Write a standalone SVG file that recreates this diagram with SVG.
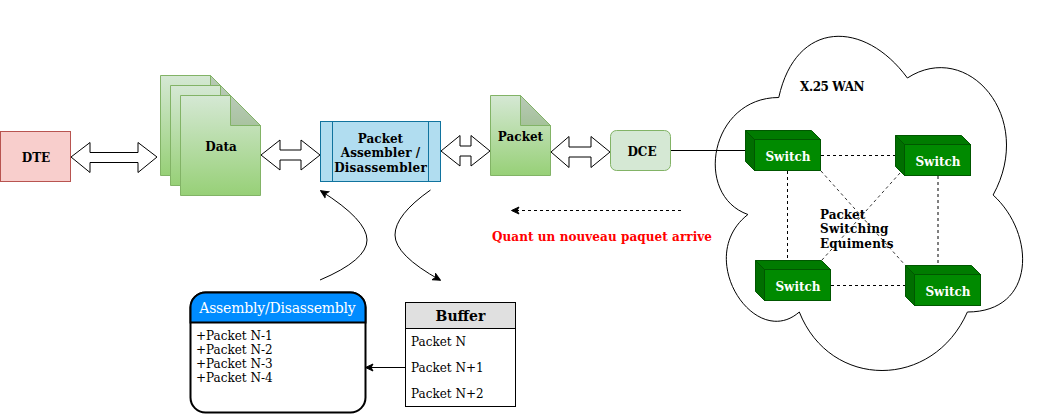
<svg xmlns="http://www.w3.org/2000/svg" width="1037" height="414" viewBox="0 0 1037 414">
<style>
text{font-family:"DejaVu Serif",serif;font-size:12px;fill:#000}
.b{font-weight:bold}
.m{text-anchor:middle}
.w{fill:#fff}
.doc{fill:url(#g);stroke:#82b366}
.fold{fill:#000;fill-opacity:.13;stroke:#82b366}
.sw{fill:#008a00;stroke:#005700}
.swd{fill:#006e00;stroke:#005700}
.sw2{fill:#007b00;stroke:#005700}
.flex{fill:#fff;stroke:#000}
.dash{fill:none;stroke:#000;stroke-dasharray:3 3}
.line{fill:none;stroke:#000}
.arr{marker-end:url(#a)}
</style>
<defs>
<linearGradient id="g" x1="0" y1="0" x2="0" y2="1"><stop offset="0" stop-color="#d5e8d4"/><stop offset="1" stop-color="#97d077"/></linearGradient>
<marker id="a" markerUnits="userSpaceOnUse" markerWidth="9" markerHeight="9" refX="7.5" refY="4.5" orient="auto"><path d="M0.5 1L8 4.5L0.5 8L2.4 4.5Z" fill="#000" stroke="#000"/></marker>
</defs>

<g id="cloud"><path d="M778.75 97.5C710 97.5 693 195 747.9 214.5C693 257.4 755 351 799.3 312C830.2 390 933 390 967.4 312C1036 312 1036 234 993.1 195C1036 117 967.4 39 907.4 78C864.5 19.5 795.9 19.5 778.75 97.5Z" fill="#fff" stroke="#000"/>
<text class="b" x="800" y="91" textLength="64.500">X.25 WAN</text></g>

<g id="connectors">
<path class="flex" d="M71 157L90 142.500V152.500H138V142.500L157 157L138 172.500V162.500H90V172.500Z"/>
<path class="flex" d="M261 155L280 140V150H301V140L320 155L301 170V160H280V170Z"/>
<path class="flex" d="M441 151L460 135.500V146H471V135.500L490 151L471 166V156H460V166Z"/>
<path class="flex" d="M551 152L569 136.500V147H591V136.500L610 152L591 167.500V157H569V167.500Z"/>
<path class="line" d="M670 150.500H745"/>
<path class="line arr" d="M320 280Q367 260 367 240Q367 220 321 191"/>
<path class="line arr" d="M430.500 190Q395 215 395 235Q395 255 440 280"/>
<path class="dash arr" d="M681 210.500H512"/>
<path class="line arr" d="M405 367.500H366"/>
<path class="dash" d="M821 155.500H895M787.500 171V260M938 176V265M831 285.500H905"/>
<path class="dash" stroke-width=".8" d="M821 171L905 265M900 173L822 260"/>
</g>

<g id="dte"><rect x=".5" y="131.500" width="70" height="50" fill="#f8cecc" stroke="#b85450"/><text class="b m" x="36" y="162">DTE</text></g>

<g id="data">
<path class="doc" d="M160.500 75.500H210.500L240.500 105.500V175.500H160.500Z"/><path class="fold" d="M210.500 75.500V105.500H240.500Z"/>
<path class="doc" d="M170.500 85.500H220.500L250.500 115.500V185.500H170.500Z"/><path class="fold" d="M220.500 85.500V115.500H250.500Z"/>
<path class="doc" d="M180.500 95.500H230.500L260.500 125.500V195.500H180.500Z"/><path class="fold" d="M230.500 95.500V125.500H260.500Z"/>
<text class="b m" x="221" y="151">Data</text></g>

<g id="assembler"><rect x="320.500" y="121.500" width="120" height="60" fill="#b1ddf0" stroke="#10739e"/><path d="M332.500 121.500V181.500M428.500 121.500V181.500" fill="none" stroke="#10739e"/>
<text class="b m" x="380.500" y="142.500">Packet</text><text class="b m" x="380.500" y="157" textLength="79.500">Assembler /</text><text class="b m" x="380.500" y="171.500" textLength="92.500">Disassembler</text></g>

<g id="packet"><path class="doc" d="M490.500 95.500H520.500L550.500 125.500V175.500H490.500Z"/><path class="fold" d="M520.500 95.500V125.500H550.500Z"/><text class="b m" x="520.500" y="141">Packet</text></g>

<g id="dce"><rect x="610.500" y="130.500" width="60" height="40" rx="6" fill="#d5e8d4" stroke="#82b366"/><text class="b m" x="642" y="156">DCE</text></g>

<g id="switch1"><path class="sw2" d="M745.500 130.500H811.500L820.500 139.500H754.500L745.500 130.500Z"/><path class="swd" d="M745.500 130.500L754.500 139.500V170.500L745.500 161.500Z"/><rect class="sw" x="754.500" y="139.500" width="66" height="31"/><text class="b m w" x="788" y="161">Switch</text></g>
<g id="switch2"><path class="sw2" d="M895.500 135.500H961.500L970.500 144.500H904.500L895.500 135.500Z"/><path class="swd" d="M895.500 135.500L904.500 144.500V175.500L895.500 166.500Z"/><rect class="sw" x="904.500" y="144.500" width="66" height="31"/><text class="b m w" x="938" y="166">Switch</text></g>
<g id="switch3"><path class="sw2" d="M755.500 260.500H821.500L830.500 269.500H764.500L755.500 260.500Z"/><path class="swd" d="M755.500 260.500L764.500 269.500V300.500L755.500 291.500Z"/><rect class="sw" x="764.500" y="269.500" width="66" height="31"/><text class="b m w" x="798" y="291">Switch</text></g>
<g id="switch4"><path class="sw2" d="M905.500 265.500H971.500L980.500 274.500H914.500L905.500 265.500Z"/><path class="swd" d="M905.500 265.500L914.500 274.500V305.500L905.500 296.500Z"/><rect class="sw" x="914.500" y="274.500" width="66" height="31"/><text class="b m w" x="948" y="296">Switch</text></g>

<g id="switching-label"><text class="b" x="820" y="219">Packet</text><text class="b" x="820" y="233" textLength="68.500">Switching</text><text class="b" x="820" y="248" textLength="73.500">Equiments</text></g>

<g id="note"><text class="b" x="492" y="241" style="fill:#f00" textLength="220">Quant un nouveau paquet arrive</text></g>

<g id="assembly">
<rect x="190.500" y="292.500" width="175" height="120" rx="15" fill="#fff" stroke="#000" stroke-width="2"/>
<path d="M190.500 322.500V307.500A15 15 0 0 1 205.500 292.500H350.500A15 15 0 0 1 365.500 307.500V322.500Z" fill="#008cff" stroke="#000" stroke-width="2"/>
<text class="m w" x="277.500" y="313" style="font-size:14px" textLength="156.500">Assembly/Disassembly</text>
<text x="196" y="340">+Packet N-1</text><text x="196" y="354">+Packet N-2</text><text x="196" y="368">+Packet N-3</text><text x="196" y="382">+Packet N-4</text>
</g>

<g id="buffer">
<rect x="405.500" y="302.500" width="110" height="104" fill="#fff" stroke="#000"/>
<rect x="405.500" y="302.500" width="110" height="26" fill="#e0e0e0" stroke="#000"/>
<text class="b m" x="460.500" y="321" style="font-size:14px">Buffer</text>
<text x="411" y="346">Packet N</text><text x="411" y="372">Packet N+1</text><text x="411" y="398">Packet N+2</text>
</g>
</svg>
